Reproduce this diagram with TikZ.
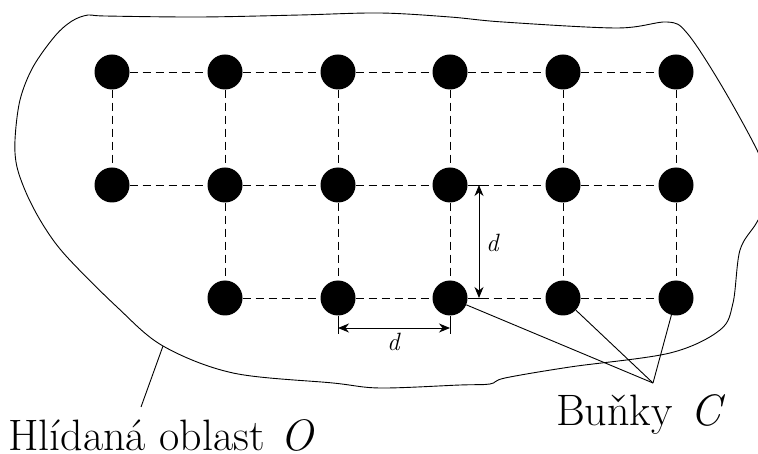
\documentclass[tikz,border=0pt]{standalone}
\usepackage{fontspec}
\usetikzlibrary{arrows.meta}
\begin{document}
\begin{tikzpicture}[x=1pt,y=-1pt,
  cell/.style={circle,fill=black,minimum size=35pt,inner sep=0pt},
  gridline/.style={dash pattern=on 8pt off 5pt,line width=0.9pt},
  thin/.style={line width=0.9pt},
  dimarrow/.style={line width=0.9pt,{Stealth[length=11pt,width=9pt,inset=3.5pt]}-{Stealth[length=11pt,width=9pt,inset=3.5pt]}},
  biglabel/.style={inner sep=0pt,anchor=base west,font=\fontsize{44}{50}\selectfont},
  dlabel/.style={inner sep=0pt,font=\fontsize{25}{28}\selectfont}]
\useasboundingbox (0,0) rectangle (758,454);
% region outline
\begin{scope}
\clip (0,0) rectangle (758,454);
\draw[thin] plot[smooth cycle, tension=0.55] coordinates {
 (88,15) (105,16) (200,17) (300,15) (380,13) (450,17) (503,22) (617,28)
 (667,22) (687,33) (720,83) (757,150) (772,190) (757,222) (740,250)
 (733,303) (720,330) (670,353) (570,367) (505,378) (490,384) (460,385)
 (380,388) (333,383) (233,373) (163,346) (117,307) (67,257) (45,228)
 (28,197) (17,167) (15,140) (20,100) (33,67) (55,36) (72,21)};
\end{scope}
% cells
\foreach \c/\x in {1/112,2/225,3/338,4/450,5/563,6/676}{
  \node[cell] (a\c) at (\x,72) {};
  \node[cell] (b\c) at (\x,185) {};
}
\foreach \c/\x in {2/225,3/338,4/450,5/563,6/676}{
  \node[cell] (r\c) at (\x,298) {};
}
% grid lines
\foreach \c/\n in {1/2,2/3,3/4,4/5,5/6}{
  \draw[gridline] (a\c) -- (a\n);
  \draw[gridline] (b\c) -- (b\n);
}
\foreach \c/\n in {2/3,3/4,4/5,5/6}{
  \draw[gridline] (r\c) -- (r\n);
}
\foreach \c in {1,...,6}{ \draw[gridline] (a\c) -- (b\c); }
\foreach \c in {2,...,6}{ \draw[gridline] (b\c) -- (r\c); }
% vertical dimension
\coordinate (vt) at (486,185);
\coordinate (vb) at (486,298);
\coordinate (va1) at (479,185);
\coordinate (va2) at (479,298);
\draw[thin] (b4.east) -- (vt);
\draw[thin] (r4.east) -- (vb);
\draw[dimarrow] (va1) -- (va2);
\node[dlabel] (dv) at (493,243) {\textit{d}};
% horizontal dimension
\coordinate (ht1) at (338,334);
\coordinate (ht2) at (450,334);
\coordinate (ha1) at (338,328);
\coordinate (ha2) at (450,328);
\draw[thin] (r3.south) -- (ht1);
\draw[thin] (r4.south) -- (ht2);
\draw[dimarrow] (ha1) -- (ha2);
\node[dlabel] (dh) at (394,342) {\textit{d}};
% labels
\node[biglabel] (lo) at (8,450) {Hlídaná oblast\kern 3pt\ \textit{O}};
\node[biglabel] (lc) at (556,425) {Buňky\kern 5pt\ \textit{C}};
\coordinate (apex) at (653,383);
\draw[thin] (r4) -- (apex);
\draw[thin] (r5) -- (apex);
\draw[thin] (r6) -- (apex);
\coordinate (hp) at (163,346);
\coordinate (hq) at (141,407);
\draw[thin] (hp) -- (hq);
\end{tikzpicture}
\end{document}
